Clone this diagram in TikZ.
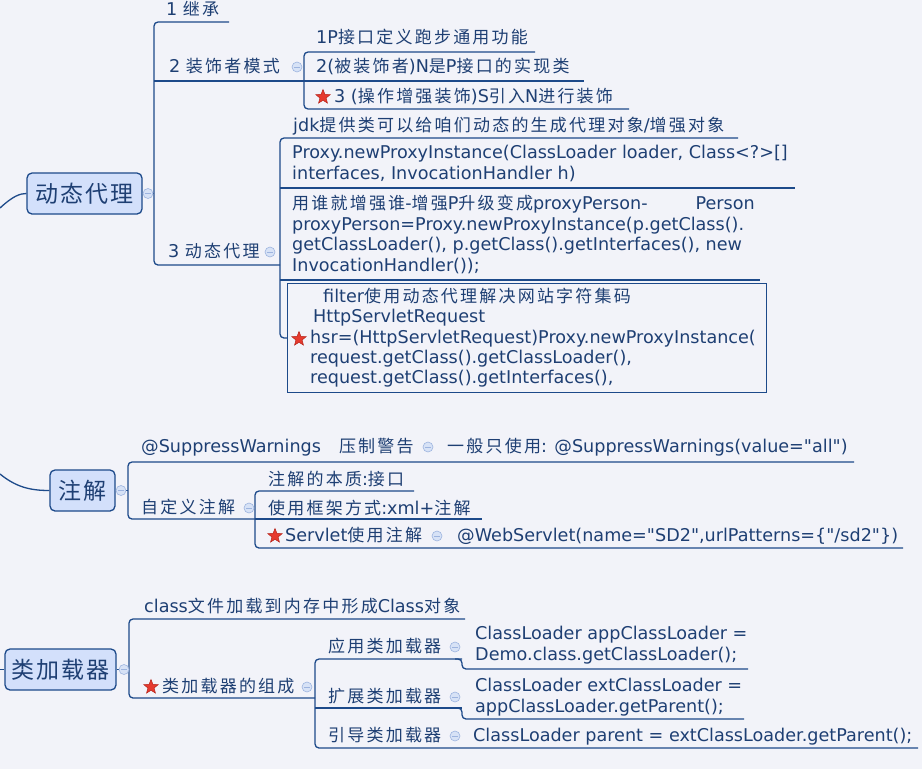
\documentclass[tikz,border=0pt]{standalone}
\usepackage{fontspec}
\setmainfont{DejaVu Sans}[Ligatures=TeXOff]
\newfontfamily\zhfont[LetterSpace=13]{Noto Sans CJK SC}
\newfontfamily\zhbigfont[LetterSpace=10]{Noto Sans CJK SC}
\newcommand{\zh}[1]{{\zhfont\fontsize{17}{21}\selectfont #1}}
\usetikzlibrary{shapes.geometric}
\definecolor{bgc}{HTML}{F2F3F9}
\definecolor{linec}{HTML}{1D4A8A}
\definecolor{txtc}{HTML}{1E3F73}
\definecolor{boxfill}{HTML}{D3E0FB}
\definecolor{foldfill}{HTML}{D7E2F6}
\definecolor{foldline}{HTML}{9DB4DF}
\definecolor{starred}{HTML}{E63A2E}
\definecolor{stardark}{HTML}{B52218}

\begin{document}
\begin{tikzpicture}[x=1pt, y=-1pt,
  branch/.style={draw=linec, line width=1.3pt, rounded corners=4pt},
  topic/.style={draw=linec, fill=boxfill, line width=1.3pt, rounded corners=5pt,
    minimum height=41pt, inner sep=0pt, text=txtc,
    font=\zhbigfont\fontsize{23}{26}\selectfont},
  leaf/.style={anchor=base west, inner sep=0pt, text=txtc, align=left,
    font=\fontsize{17.6}{21}\selectfont},
  fold/.style={circle, draw=foldline, fill=foldfill, line width=0.6pt,
    minimum size=10pt, inner sep=0pt,
    path picture={\draw[foldline, line width=0.9pt]
      ([xshift=-2.6pt]path picture bounding box.center) --
      ([xshift=2.6pt]path picture bounding box.center);}},
  redstar/.style={star, star points=5, star point ratio=2.3, fill=starred,
    draw=stardark, line width=0.5pt, minimum size=15pt, inner sep=0pt}]
  \useasboundingbox (0,0) rectangle (922,769);
  \fill[bgc] (0,0) rectangle (922,769);

  % 动态代理
  \node[topic, minimum width=115pt] (dt) at (84.5,193.5) {动态代理};
  \draw[branch] (0,208) .. controls (13,196) and (20,193.5) .. (dt.west);
  \coordinate (dtv) at (154,193.5);
  \draw[branch] (dt.east) -- (dtv);
  \draw[branch] (229,22) -- (154,22) -- (154,265) -- (280,265);
  \draw[branch] (154,81) -- (304,81);
  \node[fold] (dtf) at (148,193.5) {};

  \node[leaf] (jc) at (166,15.5) {1 \zh{继承}};

  \node[leaf] (zs) at (169,72.5) {2 \zh{装饰者模式}};
  \node[fold] (zsf) at (297,67) {};
  \draw[branch] (535,52) -- (304,52) -- (304,109) -- (629,109);
  \draw[branch] (304,81) -- (584,81);
  \node[leaf] (zsa) at (316,43.5) {1P\zh{接口定义跑步通用功能}};
  \node[leaf] (zsb) at (316,72.5) {2(\zh{被装饰者})N\zh{是}P\zh{接口的实现类}};
  \node[redstar] (zscs) at (323,97) {};
  \node[leaf] (zsc) at (334,102.5) {3 (\zh{操作增强装饰})S\zh{引入}N\zh{进行装饰}};

  \node[leaf] (dl) at (168,257.5) {3 \zh{动态代理}};
  \node[fold] (dlf) at (270,252) {};
  \draw[branch] (738,138) -- (280,138) -- (280,338) -- (287,338);
  \draw[branch] (280,188) -- (795,188);
  \draw[branch] (280,280) -- (760,280);
  \node[leaf] (dla) at (293,131.5) {jdk\zh{提供类可以给咱们动态的生成代理对象}/\zh{增强对象}};
  % 多行文字: base 为最后一行
  \node[leaf] (dlb) at (292,179.5) {Proxy.newProxyInstance(ClassLoader loader, Class<?>[]\\
    interfaces, InvocationHandler h)};
  \node[leaf, font=\fontsize{17.6}{20.7}\selectfont] (dlc) at (292,271.6)
    {\zh{用谁就增强谁}-\zh{增强}P\zh{升级变成}proxyPerson-\hspace{48pt}Person\\
    proxyPerson=Proxy.newProxyInstance(p.getClass().\\
    getClassLoader(), p.getClass().getInterfaces(), new\\
    InvocationHandler());};
  \node[draw=linec, line width=1pt, anchor=north west, inner sep=0pt,
    minimum width=479pt, minimum height=109pt] (fbox) at (287,283) {};
  \node[redstar] (fstar) at (299,339) {};
  \node[leaf, font=\fontsize{17.6}{20.3}\selectfont] (ftxt) at (310,383.7)
    {\hspace*{13pt}filter\zh{使用动态代理解决网站字符集码}\\
    \hspace*{3pt}HttpServletRequest\\
    hsr=(HttpServletRequest)Proxy.newProxyInstance(\\
    request.getClass().getClassLoader(),\\
    request.getClass().getInterfaces(),};

  % 注解
  \node[topic, minimum width=65pt] (zj) at (82.5,490.5) {注解};
  \draw[branch] (0,474) .. controls (16,487) and (30,490.5) .. (zj.west);
  \coordinate (zjv) at (128,490.5);
  \draw[branch] (zj.east) -- (zjv);
  \draw[branch] (854,462) -- (128,462) -- (128,519) -- (255,519);
  \draw[branch] (414,491) -- (255,491) -- (255,548) -- (903,548);
  \draw[branch] (255,519) -- (482,519);
  \node[fold] (zjf) at (121,490.5) {};

  \node[leaf] (sw) at (141,452.5) {@SuppressWarnings\hspace{18pt}\zh{压制警告}};
  \node[fold] (swf) at (428,447) {};
  \node[leaf] (swa) at (447,452.5) {\zh{一般只使用}: @SuppressWarnings(value="all")};

  \node[leaf] (zd) at (141,513.5) {\zh{自定义注解}};
  \node[fold] (zdf) at (249,508) {};
  \node[leaf] (zda) at (268,485.5) {\zh{注解的本质}:\zh{接口}};
  \node[leaf] (zdb) at (268,514.5) {\zh{使用框架方式}:xml+\zh{注解}};
  \node[redstar] (zdcs) at (275,536) {};
  \node[leaf] (zdc) at (285,541.5) {Servlet\zh{使用注解}};
  \node[fold] (zdcf) at (437,536) {};
  \node[leaf] (zdd) at (457,541.5) {@WebServlet(name="SD2",urlPatterns=\{"/sd2"\})};

  % 类加载器
  \node[topic, minimum width=111pt] (lj) at (60.5,669.5) {类加载器};
  \draw[branch] (0,669.5) -- (lj.west);
  \coordinate (ljv) at (129,669.5);
  \draw[branch] (lj.east) -- (ljv);
  \draw[branch] (465,619) -- (129,619) -- (129,698) -- (315,698);
  \draw[branch] (462,659) -- (315,659) -- (315,748) -- (918,748);
  \draw[branch] (315,708) -- (462,708);
  \draw[branch] (455,659) -- (462,659) -- (462,669) -- (748,669);
  \draw[branch] (455,708) -- (462,708) -- (462,719) -- (744,719);
  \node[fold] (ljf) at (124,669.5) {};

  \node[leaf] (cl) at (144,612.5) {class\zh{文件加载到内存中形成}Class\zh{对象}};
  \node[redstar] (zcs) at (151,687) {};
  \node[leaf] (zc) at (162,692.5) {\zh{类加载器的组成}};
  \node[fold] (zcf) at (307,687) {};

  \node[leaf] (yy) at (328,652.5) {\zh{应用类加载器}};
  \node[fold] (yyf) at (455,647) {};
  \node[leaf] (yya) at (475,660.5) {ClassLoader appClassLoader =\\
    Demo.class.getClassLoader();};
  \node[leaf] (kz) at (328,702.5) {\zh{扩展类加载器}};
  \node[fold] (kzf) at (455,697) {};
  \node[leaf] (kza) at (475,712.5) {ClassLoader extClassLoader =\\
    appClassLoader.getParent();};
  \node[leaf] (yd) at (328,741.5) {\zh{引导类加载器}};
  \node[fold] (ydf) at (455,736) {};
  \node[leaf] (yda) at (473,741.5) {ClassLoader parent = extClassLoader.getParent();};
\end{tikzpicture}
\end{document}
